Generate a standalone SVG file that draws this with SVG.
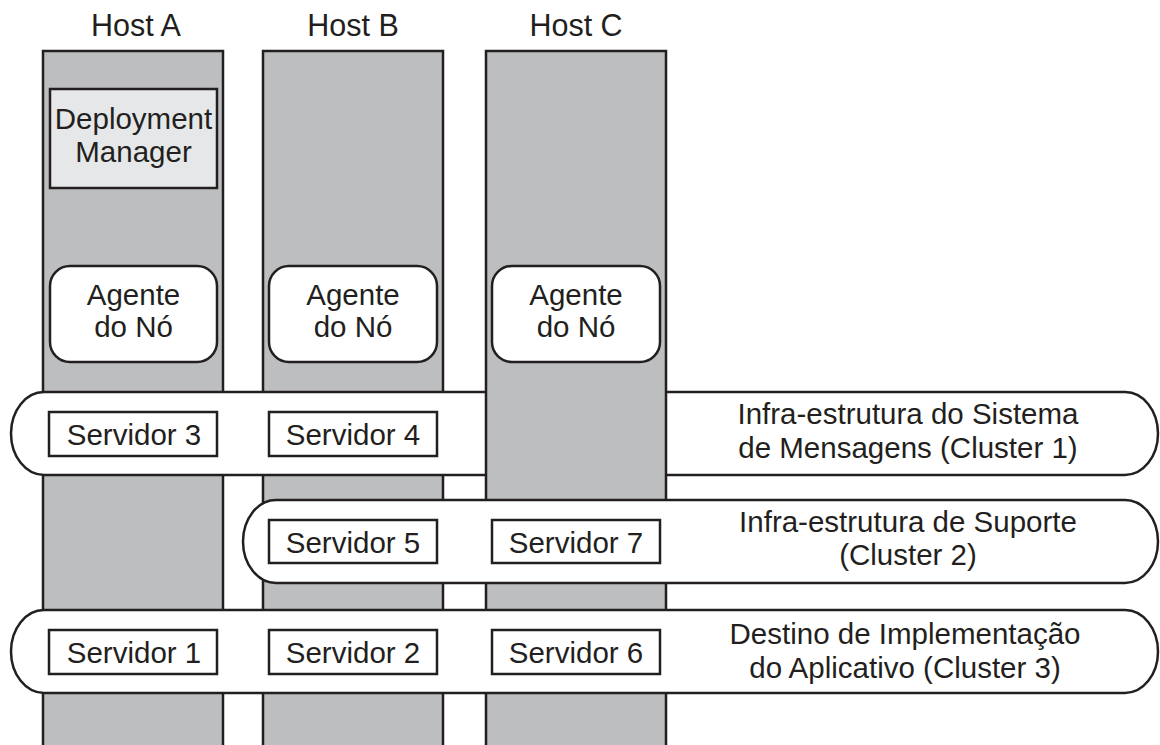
<svg xmlns="http://www.w3.org/2000/svg" width="1160" height="745" viewBox="0 0 1160 745">
<style>
  text { font-family: "Liberation Sans", Arial, Helvetica, sans-serif; font-size: 29.5px; fill: #231f20; text-anchor: middle; }
  .host { fill: #bcbec0; stroke: #231f20; stroke-width: 2.5; }
  .box { fill: #ffffff; stroke: #231f20; stroke-width: 2.5; }
  .dm { fill: #e6e7e8; stroke: #231f20; stroke-width: 2.5; }
  .cluster { fill: #ffffff; stroke: #231f20; stroke-width: 2.5; }
  .hl { font-size: 30.5px; }
</style>
<rect width="1160" height="745" fill="#ffffff"/>

<g id="hostA">
  <text class="hl" x="136" y="36">Host A</text>
  <rect class="host" x="43" y="51" width="180" height="710"/>
</g>
<g id="hostB">
  <text class="hl" x="353" y="36">Host B</text>
  <rect class="host" x="263" y="51" width="180" height="710"/>
</g>

<g id="deployment-manager">
  <rect class="dm" x="50" y="89" width="167" height="99"/>
  <text x="133.5" y="129">Deployment</text>
  <text x="133.5" y="162">Manager</text>
</g>

<g id="agentA">
  <rect class="box" x="50" y="266" width="167" height="96" rx="20" ry="20"/>
  <text x="133.5" y="305">Agente</text>
  <text x="133.5" y="337">do Nó</text>
</g>
<g id="agentB">
  <rect class="box" x="269" y="266" width="168" height="96" rx="20" ry="20"/>
  <text x="353" y="305">Agente</text>
  <text x="353" y="337">do Nó</text>
</g>

<g id="cluster1">
  <path class="cluster" d="M44,392 H1125 A33,41.5 0 0 1 1125,475 H44 A33,41.5 0 0 1 44,392 Z"/>
  <text x="908" y="424">Infra-estrutura do Sistema</text>
  <text x="908" y="458">de Mensagens (Cluster 1)</text>
</g>
<g id="servidor3">
  <rect class="box" x="49" y="412" width="168" height="44"/>
  <text x="134" y="445">Servidor 3</text>
</g>
<g id="servidor4">
  <rect class="box" x="269" y="412" width="168" height="44"/>
  <text x="353" y="445">Servidor 4</text>
</g>

<g id="hostC">
  <text class="hl" x="576" y="36">Host C</text>
  <rect class="host" x="486" y="51" width="180" height="710"/>
</g>
<g id="agentC">
  <rect class="box" x="492" y="266" width="168" height="96" rx="20" ry="20"/>
  <text x="576" y="305">Agente</text>
  <text x="576" y="337">do Nó</text>
</g>

<g id="cluster2">
  <path class="cluster" d="M276,500 H1125 A33,41.5 0 0 1 1125,583 H276 A33,41.5 0 0 1 276,500 Z"/>
  <text x="908" y="532">Infra-estrutura de Suporte</text>
  <text x="908" y="565">(Cluster 2)</text>
</g>
<g id="servidor5">
  <rect class="box" x="269" y="520" width="168" height="43"/>
  <text x="353" y="553">Servidor 5</text>
</g>
<g id="servidor7">
  <rect class="box" x="492" y="520" width="168" height="43"/>
  <text x="576" y="553">Servidor 7</text>
</g>

<g id="cluster3">
  <path class="cluster" d="M44,610 H1125 A33,41.5 0 0 1 1125,693 H44 A33,41.5 0 0 1 44,610 Z"/>
  <text x="905" y="644">Destino de Implementação</text>
  <text x="905" y="678">do Aplicativo (Cluster 3)</text>
</g>
<g id="servidor1">
  <rect class="box" x="49" y="630" width="168" height="44"/>
  <text x="134" y="663">Servidor 1</text>
</g>
<g id="servidor2">
  <rect class="box" x="269" y="630" width="168" height="44"/>
  <text x="353" y="663">Servidor 2</text>
</g>
<g id="servidor6">
  <rect class="box" x="492" y="630" width="168" height="44"/>
  <text x="576" y="663">Servidor 6</text>
</g>

<g id="connectors"></g>
</svg>
